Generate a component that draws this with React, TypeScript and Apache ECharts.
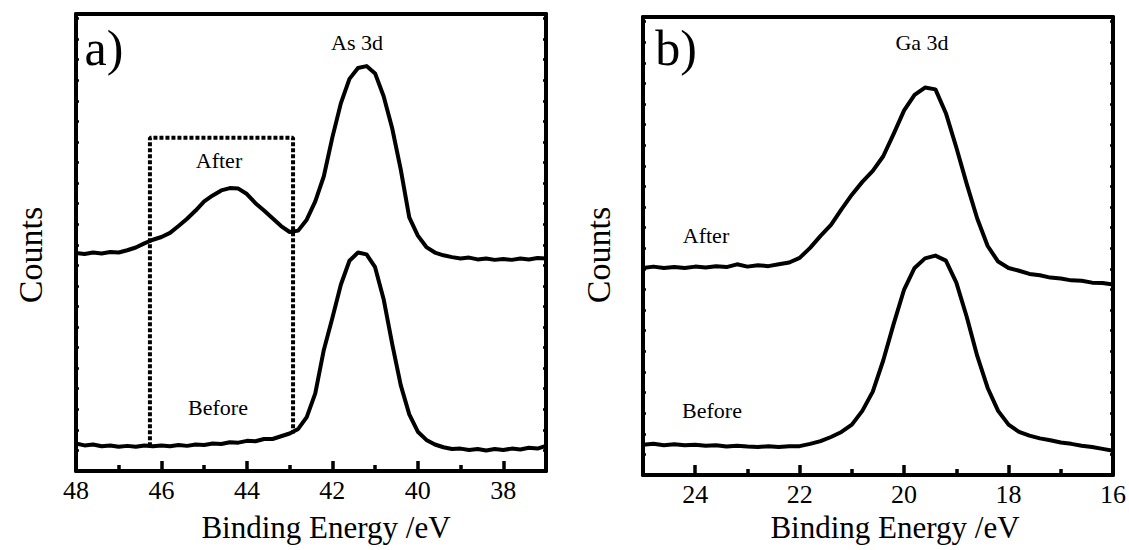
import React, { useEffect, useRef } from "react";
import * as echarts from "echarts";

// XPS spectra: [binding energy (eV), counts (a.u.)]
const asAfter: [number, number][] = [
  [48.0, 47.7], [47.8, 47.5], [47.6, 47.8], [47.4, 47.6], [47.2, 47.9], [47.0, 47.8],
  [46.8, 48.3], [46.6, 48.9], [46.4, 49.8], [46.2, 50.6], [46.0, 51.2], [45.8, 52.1],
  [45.6, 53.6], [45.4, 55.2], [45.2, 57.0], [45.0, 59.0], [44.8, 60.3], [44.6, 61.4],
  [44.4, 61.9], [44.2, 61.8], [44.0, 60.6], [43.8, 58.6], [43.6, 57.0], [43.4, 55.3],
  [43.2, 53.6], [43.0, 52.3], [42.8, 52.6], [42.6, 55.0], [42.4, 59.0], [42.2, 64.5],
  [42.0, 73.0], [41.8, 80.5], [41.6, 85.8], [41.4, 88.2], [41.2, 88.6], [41.0, 87.0],
  [40.8, 82.0], [40.6, 75.0], [40.4, 66.0], [40.2, 55.5], [40.0, 51.5], [39.8, 49.0],
  [39.6, 47.8], [39.4, 47.2], [39.2, 46.8], [39.0, 46.5], [38.8, 46.7], [38.6, 46.3],
  [38.4, 46.5], [38.2, 46.2], [38.0, 46.4], [37.8, 46.2], [37.6, 46.5], [37.4, 46.3],
  [37.2, 46.6], [37.0, 46.5],
];

const asBefore: [number, number][] = [
  [48.0, 6.0], [47.8, 5.6], [47.6, 5.8], [47.4, 5.4], [47.2, 5.6], [47.0, 5.3],
  [46.8, 5.5], [46.6, 5.3], [46.4, 5.6], [46.2, 5.4], [46.0, 5.6], [45.8, 5.4],
  [45.6, 5.7], [45.4, 5.5], [45.2, 5.8], [45.0, 5.7], [44.8, 6.0], [44.6, 5.9],
  [44.4, 6.3], [44.2, 6.2], [44.0, 6.6], [43.8, 6.5], [43.6, 7.0], [43.4, 7.0],
  [43.2, 7.6], [43.0, 8.2], [42.8, 9.2], [42.6, 11.8], [42.4, 17.0], [42.2, 26.5],
  [42.0, 33.5], [41.8, 40.8], [41.6, 46.0], [41.4, 47.8], [41.2, 47.4], [41.0, 44.6],
  [40.8, 37.6], [40.6, 27.8], [40.4, 18.8], [40.2, 12.4], [40.0, 8.6], [39.8, 6.8],
  [39.6, 5.8], [39.4, 5.2], [39.2, 4.8], [39.0, 4.9], [38.8, 4.6], [38.6, 4.8],
  [38.4, 4.5], [38.2, 4.8], [38.0, 4.6], [37.8, 4.9], [37.6, 4.7], [37.4, 5.1],
  [37.2, 4.9], [37.0, 5.5],
];

const gaAfter: [number, number][] = [
  [25.0, 45.2], [24.8, 45.5], [24.6, 45.2], [24.4, 45.4], [24.2, 45.2], [24.0, 45.5],
  [23.8, 45.3], [23.6, 45.6], [23.4, 45.4], [23.2, 46.0], [23.0, 45.5], [22.8, 45.8],
  [22.6, 45.6], [22.4, 46.0], [22.2, 46.4], [22.0, 47.4], [21.8, 49.6], [21.6, 52.2],
  [21.4, 54.6], [21.2, 58.0], [21.0, 61.2], [20.8, 64.0], [20.6, 66.4], [20.4, 69.6],
  [20.2, 74.5], [20.0, 79.6], [19.8, 83.0], [19.6, 84.6], [19.4, 84.2], [19.2, 79.0],
  [19.0, 71.5], [18.8, 63.5], [18.6, 56.0], [18.4, 50.0], [18.2, 46.6], [18.0, 45.2],
  [17.8, 44.6], [17.6, 43.9], [17.4, 43.6], [17.2, 43.1], [17.0, 42.9], [16.8, 42.5],
  [16.6, 42.4], [16.4, 42.0], [16.2, 41.9], [16.0, 41.6],
];

const gaBefore: [number, number][] = [
  [25.0, 6.6], [24.8, 6.8], [24.6, 6.5], [24.4, 6.7], [24.2, 6.5], [24.0, 6.6],
  [23.8, 6.4], [23.6, 6.5], [23.4, 6.2], [23.2, 6.4], [23.0, 6.2], [22.8, 6.1],
  [22.6, 6.3], [22.4, 6.1], [22.2, 6.3], [22.0, 6.3], [21.8, 6.8], [21.6, 7.4],
  [21.4, 8.3], [21.2, 9.4], [21.0, 11.0], [20.8, 14.0], [20.6, 18.2], [20.4, 25.0],
  [20.2, 33.0], [20.0, 40.5], [19.8, 45.2], [19.6, 47.3], [19.4, 47.9], [19.2, 46.8],
  [19.0, 42.0], [18.8, 34.5], [18.6, 26.0], [18.4, 19.0], [18.2, 14.0], [18.0, 11.0],
  [17.8, 9.4], [17.6, 8.6], [17.4, 8.0], [17.2, 7.6], [17.0, 7.1], [16.8, 6.8],
  [16.6, 6.4], [16.4, 6.1], [16.2, 5.7], [16.0, 5.3],
];

// dashed region marking the oxide component (open at the bottom)
const asBox: [number, number][] = [[46.27, 5.4], [46.27, 72.9], [42.92, 72.9], [42.92, 8.2]];

const asRange = [37, 48];
const gaRange = [16, 25];
const asMajorTicks = [38, 40, 42, 44, 46, 48];
const asMinorTicks = [37, 39, 41, 43, 45, 47];
const gaMajorTicks = [16, 18, 20, 22, 24];
const gaMinorTicks = [17, 19, 21, 23, 25];

const FONT = '"Liberation Serif", "Times New Roman", serif';
const INK = "#000";

function bottomMajor(gridIndex: number, range: number[], ticks: number[]) {
  return {
    type: "value", gridIndex, min: range[0], max: range[1], inverse: true, position: "bottom",
    axisLine: { show: true, onZero: false, lineStyle: { color: INK, width: 4 } },
    axisTick: { show: true, inside: true, length: 10, customValues: ticks, lineStyle: { color: INK, width: 3.5 } },
    axisLabel: { show: true, customValues: ticks, color: INK, fontSize: 26, fontFamily: FONT, margin: 6 },
    splitLine: { show: false },
  };
}

function bottomMinor(gridIndex: number, range: number[], ticks: number[]) {
  return {
    type: "value", gridIndex, min: range[0], max: range[1], inverse: true, position: "bottom",
    axisLine: { show: false, onZero: false },
    axisTick: { show: true, inside: true, length: 6, customValues: ticks, lineStyle: { color: INK, width: 3.5 } },
    axisLabel: { show: false },
    splitLine: { show: false },
  };
}

function topFrame(gridIndex: number, range: number[]) {
  return {
    type: "value", gridIndex, min: range[0], max: range[1], inverse: true, position: "top",
    axisLine: { show: true, onZero: false, lineStyle: { color: INK, width: 4 } },
    axisTick: { show: false }, axisLabel: { show: false }, splitLine: { show: false },
  };
}

function sideAxis(gridIndex: number, position: string) {
  return {
    type: "value", gridIndex, position, min: 0, max: 100, interval: 4.5,
    axisLine: { show: true, onZero: false, lineStyle: { color: INK, width: 4 } },
    axisTick: { show: true, inside: true, length: 3, lineStyle: { color: INK, width: 2.5 } },
    axisLabel: { show: false }, splitLine: { show: false },
  };
}

function spectrum(data: [number, number][], xAxisIndex: number, yAxisIndex: number, dashed = false) {
  return {
    type: "line", data, xAxisIndex, yAxisIndex, showSymbol: false, symbol: "none",
    lineStyle: dashed
      ? { color: INK, width: 4, type: [4, 2] }
      : { color: INK, width: 4, join: "round" },
    silent: true, z: 3,
  };
}

function label(text: string, x: number, y: number, fontSize: number, extra: any = {}) {
  return {
    type: "text", x, y, silent: true, ...extra,
    style: { text, fill: INK, font: `${fontSize}px ${FONT}`, textAlign: "center", textVerticalAlign: "middle" },
  };
}

export default function App() {
  const ref = useRef<HTMLDivElement>(null);

  useEffect(() => {
    if (!ref.current) return;
    const chart = echarts.init(ref.current, undefined, { renderer: "svg" });
    chart.setOption({
      animation: false,
      backgroundColor: "#fff",
      grid: [
        { left: 76, top: 14, width: 470, height: 457 },
        { left: 643, top: 17, width: 471, height: 458 },
      ],
      xAxis: [
        bottomMajor(0, asRange, asMajorTicks),
        bottomMinor(0, asRange, asMinorTicks),
        topFrame(0, asRange),
        bottomMajor(1, gaRange, gaMajorTicks),
        bottomMinor(1, gaRange, gaMinorTicks),
        topFrame(1, gaRange),
      ],
      yAxis: [
        sideAxis(0, "left"),
        sideAxis(0, "right"),
        sideAxis(1, "left"),
        sideAxis(1, "right"),
      ],
      series: [
        spectrum(asAfter, 0, 0),
        spectrum(asBefore, 0, 0),
        spectrum(asBox, 0, 0, true),
        spectrum(gaAfter, 3, 2),
        spectrum(gaBefore, 3, 2),
      ],
      graphic: [
        label("a)", 104, 48, 50),
        label("As 3d", 357, 42, 22),
        label("After", 219, 160, 22),
        label("Before", 218, 407, 22),
        label("Counts", 30, 255, 34, { rotation: Math.PI / 2 }),
        label("Binding Energy /eV", 326, 527, 31),
        label("b)", 676, 48, 50),
        label("Ga 3d", 922, 42, 22),
        label("After", 706, 235, 22),
        label("Before", 712, 410, 22),
        label("Counts", 598, 255, 34, { rotation: Math.PI / 2 }),
        label("Binding Energy /eV", 895, 527, 31),
      ],
    });
    return () => chart.dispose();
  }, []);

  return (
    <div
      ref={ref}
      style={{ position: "fixed", left: 0, top: 0, width: 1129, height: 550, background: "#fff" }}
    />
  );
}
